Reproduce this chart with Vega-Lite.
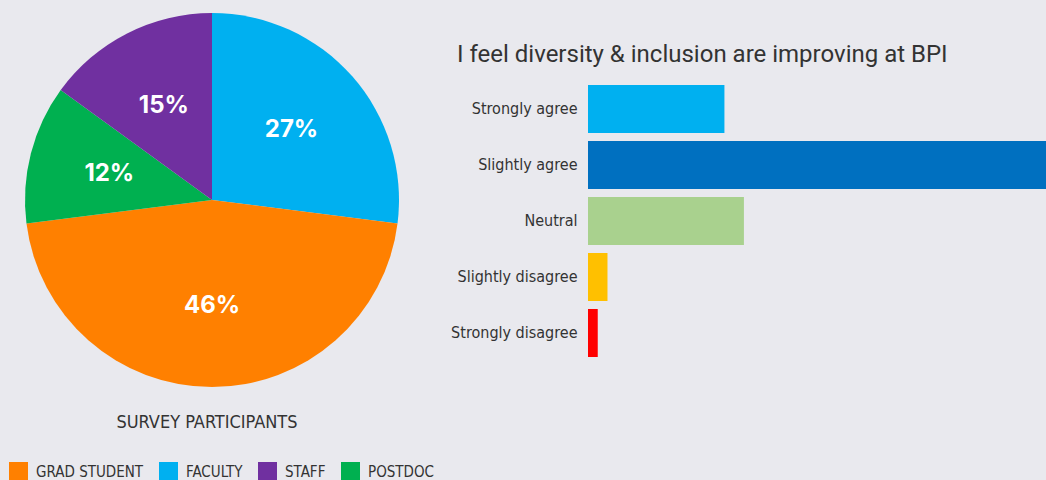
{
  "$schema": "https://vega.github.io/schema/vega-lite/v6.json",
  "background": "#e9e9ee",
  "padding": {"left": 9, "top": 13, "right": 0, "bottom": 0},
  "bounds": "flush",
  "spacing": 189,
  "resolve": {"scale": {"color": "independent"}, "legend": {"color": "independent"}},
  "config": {"view": {"stroke": null}, "font": "Roboto"},
  "hconcat": [
    {
      "width": 374,
      "height": 374,
      "title": {"text": "SURVEY PARTICIPANTS", "orient": "top", "anchor": "middle", "font": "DejaVu Sans Condensed", "fontSize": 18, "fontWeight": "normal", "color": "#333333", "baseline": "alphabetic", "offset": 0, "dy": 433, "dx": -5},
      "data": {"values": [
        {"category": "FACULTY", "share": 0.27},
        {"category": "GRAD STUDENT", "share": 0.46},
        {"category": "POSTDOC", "share": 0.12},
        {"category": "STAFF", "share": 0.15}
      ]},
      "encoding": {
        "theta": {"field": "share", "type": "quantitative", "stack": true},
        "order": {"field": "category", "type": "ordinal", "sort": "ascending"},
        "color": {
          "field": "category", "type": "nominal",
          "scale": {"domain": ["GRAD STUDENT", "FACULTY", "STAFF", "POSTDOC"], "range": ["#ff8000", "#00b0f0", "#7030a0", "#00b050"]},
          "legend": {"orient": "none", "legendX": -16, "legendY": 449, "direction": "horizontal", "title": null, "padding": 0, "symbolType": "square", "symbolSize": 361, "symbolStrokeWidth": 0, "symbolOpacity": 1, "labelFont": "DejaVu Sans Condensed", "labelFontSize": 15, "labelColor": "#333333", "labelOffset": 8, "columnPadding": 15}
        }
      },
      "layer": [
        {"mark": {"type": "arc", "outerRadius": 187}},
        {"mark": {"type": "text", "radius": 106, "font": "Inter", "fontWeight": "bold", "fontSize": 24}, "encoding": {"text": {"field": "share", "type": "quantitative", "format": ".0%"}, "color": {"value": "#ffffff"}}}
      ]
    },
    {
      "width": 458,
      "height": 348,
      "title": {"text": "I feel diversity & inclusion are improving at BPI", "anchor": "start", "frame": "group", "orient": "top", "offset": 0, "baseline": "alphabetic", "dx": -131, "dy": 73, "font": "Roboto", "fontSize": 24, "fontWeight": "normal", "color": "#333333"},
      "data": {"values": [
        {"response": "Strongly agree", "count": 14},
        {"response": "Slightly agree", "count": 47},
        {"response": "Neutral", "count": 16},
        {"response": "Slightly disagree", "count": 2},
        {"response": "Strongly disagree", "count": 1}
      ]},
      "mark": {"type": "bar"},
      "encoding": {
        "y": {"field": "response", "type": "nominal", "sort": null, "scale": {"range": [68, 348], "paddingInner": 0.143, "paddingOuter": 0.0714}, "axis": {"title": null, "domain": false, "ticks": false, "labelPadding": 11, "labelFont": "DejaVu Sans Condensed", "labelFontSize": 16, "labelColor": "#333333"}},
        "x": {"field": "count", "type": "quantitative", "scale": {"nice": false}, "axis": null},
        "color": {"field": "response", "type": "nominal", "sort": null, "scale": {"domain": ["Strongly agree", "Slightly agree", "Neutral", "Slightly disagree", "Strongly disagree"], "range": ["#00b0f0", "#0070c0", "#a9d18e", "#ffc000", "#ff0000"]}, "legend": null}
      }
    }
  ]
}
